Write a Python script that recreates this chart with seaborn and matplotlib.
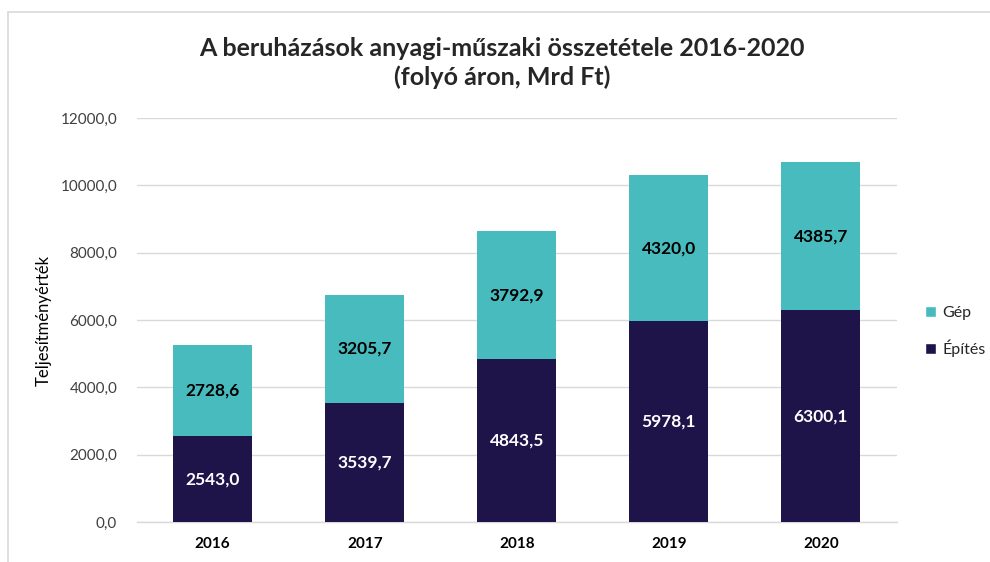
import matplotlib
matplotlib.use("Agg")
import matplotlib.pyplot as plt
import seaborn as sns
import pandas as pd
import numpy as np
from matplotlib.patches import Patch

years = ["2016", "2017", "2018", "2019", "2020"]
epites = [2543.0, 3539.7, 4843.5, 5978.1, 6300.1]
gep = [2728.6, 3205.7, 3792.9, 4320.0, 4385.7]
yticks = [0, 2000, 4000, 6000, 8000, 10000, 12000]

sns.set_theme(style="white")
plt.rcParams['font.family'] = ['Lato', 'DejaVu Sans']

c_gep = "#48BBBE"
c_ep = "#1F1449"

fig = plt.figure(figsize=(9.9, 5.62), dpi=100)
ax = fig.add_axes([0.138, 0.071, 0.768, 0.719])

df = pd.DataFrame({"year": years, "Építés": epites, "Gép": gep})
df["total"] = df["Építés"] + df["Gép"]

sns.barplot(data=df, x="year", y="total", color=c_gep, width=0.52, ax=ax, saturation=1, zorder=3, linewidth=0)
sns.barplot(data=df, x="year", y="Építés", color=c_ep, width=0.52, ax=ax, saturation=1, zorder=3, linewidth=0)

fmt = lambda v: f"{v:.1f}".replace(".", ",")
for i, (e, g) in enumerate(zip(epites, gep)):
    ax.text(i, e / 2, fmt(e), ha="center", va="center", color="white", fontsize=12.5, fontweight="bold", zorder=5)
    ax.text(i, e + g / 2, fmt(g), ha="center", va="center", color="black", fontsize=12.5, fontweight="bold", zorder=5)

ax.set_ylim(0, 12000)
ax.set_xlim(-0.5, 4.5)
ax.set_yticks(yticks)
ax.set_yticklabels([fmt(float(v)) for v in yticks], fontsize=11, color="#404040")
ax.set_xticks(range(len(years)))
ax.set_xticklabels(years, fontsize=11, fontweight="bold", color="black")
ax.tick_params(axis="x", pad=11, length=0)
ax.tick_params(axis="y", pad=14, length=0)
ax.yaxis.grid(True, color="#D9D9D9", linewidth=1, zorder=0)
ax.set_axisbelow(True)
for s in ["top", "right", "left"]:
    ax.spines[s].set_visible(False)
ax.spines["bottom"].set_color("#D9D9D9")
ax.spines["bottom"].set_linewidth(1)
ax.set_xlabel("")
ax.set_ylabel("Teljesítményérték", fontsize=12, color="black", labelpad=6)

fig.text(0.507, 0.888, "A beruházások anyagi-műszaki összetétele 2016-2020\n(folyó áron, Mrd Ft)",
         ha="center", va="center", fontsize=18, fontweight="bold", linespacing=1.25)

handles = [Patch(facecolor=c_gep, label="Gép"), Patch(facecolor=c_ep, label="Építés")]
fig.legend(handles=handles, loc="center left", bbox_to_anchor=(0.934, 0.41), frameon=False,
           fontsize=11.5, handlelength=0.7, handleheight=0.7, handletextpad=0.4, labelspacing=1.2,
           borderpad=0, borderaxespad=0)

# outer chart border
fig.add_artist(plt.Line2D([0.008, 1.0], [0.978, 0.978], color="#D9D9D9", lw=1.2, transform=fig.transFigure))
fig.add_artist(plt.Line2D([0.008, 0.008], [0.0, 0.978], color="#D9D9D9", lw=1.2, transform=fig.transFigure))

fig.savefig("out.png", dpi=100)
